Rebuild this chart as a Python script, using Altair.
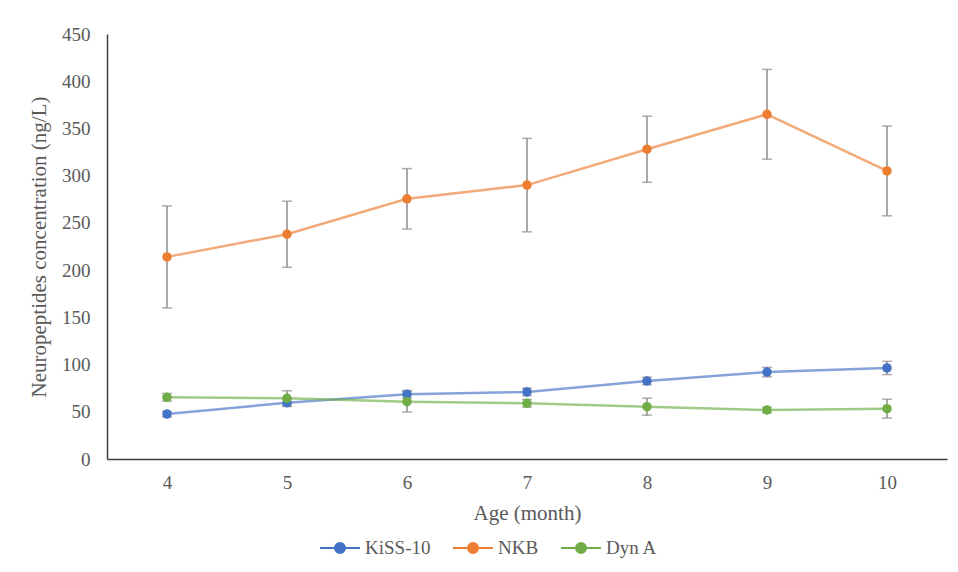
import altair as alt
import pandas as pd

ages = [4, 5, 6, 7, 8, 9, 10]
series_names = ["KiSS-10", "NKB", "Dyn A"]
kiss = [47.6, 59.6, 68.5, 71.0, 82.6, 92.0, 96.4]
kiss_err = [3, 4, 4, 4, 4, 5, 7]
nkb = [214, 238, 275.5, 290, 328, 365, 305]
nkb_err = [54, 35, 32, 49.5, 35, 47.5, 47.5]
dyn = [65.3, 64.2, 60.7, 59.0, 55.4, 51.9, 53.3]
dyn_err = [4, 8, 11, 4, 9, 3, 10]
colors = ["#4472C4", "#ED7D31", "#70AD47"]
y_ticks = [0, 50, 100, 150, 200, 250, 300, 350, 400, 450]

rows = []
for si, (name, vals, errs) in enumerate(zip(series_names, [kiss, nkb, dyn], [kiss_err, nkb_err, dyn_err])):
    for a, v, e in zip(ages, vals, errs):
        rows.append({"series": name, "order": si, "age": a, "value": v,
                     "lo": v - e, "hi": v + e})
df = pd.DataFrame(rows)

FONT = "Liberation Serif"
GREY = "#595959"

x = alt.X("age:O", scale=alt.Scale(type="point", padding=0.5),
          axis=alt.Axis(title="Age (month)", labelAngle=0))
y_scale = alt.Scale(domain=[0, 450], nice=False)

legend_path = ("M-1,0H-0.25M0.25,0H1M-0.25,0A0.25,0.25,0,1,1,0.25,0"
               "A0.25,0.25,0,1,1,-0.25,0Z")
legend = alt.Legend(title=None, orient="none", direction="horizontal",
                    legendX=212, legendY=493,
                    symbolType=legend_path, symbolSize=1600,
                    symbolStrokeWidth=2, symbolOpacity=1,
                    labelFont=FONT, labelFontSize=19,
                    labelColor=GREY, labelOffset=4,
                    columnPadding=18)
color = alt.Color("series:N", scale=alt.Scale(domain=series_names, range=colors),
                  legend=legend)

base = alt.Chart(df)

err_rule = base.mark_rule(color="#8C8C8C", strokeWidth=1.5).encode(
    x=x, y=alt.Y("lo:Q", scale=y_scale), y2="hi:Q")
cap_lo = base.mark_tick(color="#8C8C8C", orient="horizontal", size=10, thickness=1.5).encode(
    x=x, y=alt.Y("lo:Q", scale=y_scale))
cap_hi = base.mark_tick(color="#8C8C8C", orient="horizontal", size=10, thickness=1.5).encode(
    x=x, y=alt.Y("hi:Q", scale=y_scale))

lines = base.mark_line(strokeWidth=2.5, strokeOpacity=0.65).encode(
    x=x,
    y=alt.Y("value:Q", scale=y_scale,
            axis=alt.Axis(title="Neuropeptides concentration (ng/L)", values=y_ticks)),
    color=color,
    order="age:O",
)

points = base.mark_point(filled=True, size=90, opacity=1).encode(
    x=x,
    y=alt.Y("value:Q", scale=y_scale),
    color=color,
    order="order:Q",
)

chart = alt.layer(err_rule, cap_lo, cap_hi, lines, points).properties(
    width=840, height=425,
    autosize=alt.AutoSizeParams(type="none"),
    padding={"left": 99, "top": 26, "right": 3, "bottom": 100},
).configure_view(stroke=None).configure_axis(
    labelFont=FONT, titleFont=FONT, labelColor=GREY, titleColor=GREY,
    labelFontSize=19, titleFontSize=21, titleFontWeight="normal",
    grid=False, ticks=False, domainColor="#404040", domainWidth=1.5,
).configure_axisY(
    labelPadding=17, titlePadding=12,
).configure_axisX(
    labelPadding=14, titlePadding=10,
)

chart.save("out.html", embed_options={"renderer": "svg", "actions": False})
